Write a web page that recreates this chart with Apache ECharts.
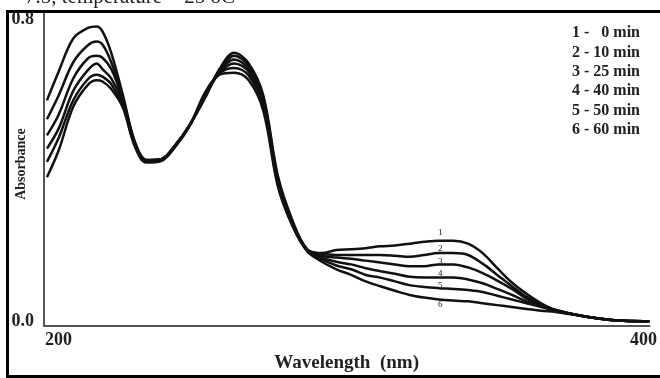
<!DOCTYPE html>
<html><head><meta charset="utf-8">
<script src="https://cdn.jsdelivr.net/npm/echarts@6/dist/echarts.min.js"></script>
<style>html,body{margin:0;padding:0;background:#fff}#c{width:660px;height:378px}</style>
</head><body><div id="c"></div>
<script>
const wavelengths = [196,200,205,210,213,215,218,222,226,230,235,240,245,250,255,260,265,270,275,280,285,290,295,300,305,310,315,320,325,330,335,340,345,350,355,360,365,370,380,390,400,402];
const curve1 = [0.586,0.662,0.750,0.778,0.782,0.769,0.712,0.599,0.478,0.428,0.430,0.468,0.523,0.591,0.669,0.712,0.684,0.599,0.385,0.267,0.191,0.181,0.189,0.191,0.194,0.199,0.201,0.206,0.211,0.214,0.214,0.206,0.181,0.141,0.103,0.073,0.048,0.030,0.013,0.003,0.000,0.000];
const curve2 = [0.536,0.599,0.687,0.732,0.742,0.734,0.687,0.591,0.476,0.428,0.430,0.468,0.523,0.594,0.664,0.704,0.677,0.591,0.377,0.262,0.191,0.179,0.176,0.176,0.176,0.176,0.174,0.171,0.176,0.181,0.181,0.176,0.153,0.123,0.093,0.065,0.045,0.030,0.013,0.003,0.000,0.000];
const curve3 = [0.493,0.548,0.644,0.697,0.704,0.699,0.669,0.586,0.473,0.426,0.429,0.468,0.523,0.596,0.662,0.694,0.669,0.584,0.372,0.259,0.189,0.174,0.169,0.166,0.161,0.156,0.151,0.146,0.146,0.151,0.151,0.143,0.128,0.108,0.086,0.060,0.043,0.028,0.013,0.003,0.000,0.000];
const curve4 = [0.458,0.511,0.611,0.666,0.684,0.669,0.644,0.579,0.470,0.425,0.428,0.468,0.523,0.599,0.659,0.684,0.662,0.576,0.367,0.257,0.189,0.169,0.158,0.151,0.141,0.133,0.126,0.118,0.116,0.116,0.116,0.111,0.101,0.086,0.070,0.053,0.040,0.028,0.013,0.003,0.000,0.000];
const curve5 = [0.423,0.486,0.586,0.642,0.654,0.649,0.629,0.571,0.468,0.423,0.426,0.466,0.521,0.601,0.657,0.672,0.652,0.569,0.362,0.254,0.186,0.164,0.148,0.138,0.123,0.116,0.106,0.096,0.091,0.088,0.086,0.083,0.078,0.068,0.058,0.048,0.038,0.028,0.013,0.003,0.000,0.000];
const curve6 = [0.382,0.453,0.569,0.627,0.639,0.636,0.616,0.566,0.465,0.421,0.425,0.464,0.521,0.606,0.654,0.659,0.639,0.558,0.357,0.252,0.186,0.158,0.138,0.123,0.106,0.093,0.081,0.070,0.063,0.058,0.055,0.053,0.048,0.043,0.038,0.033,0.028,0.025,0.013,0.003,0.000,0.000];
const curveNames = ['1','2','3','4','5','6'];
const legendLines = ['1 -   0 min','2 - 10 min','3 - 25 min','4 - 40 min','5 - 50 min','6 - 60 min'];
const tagWavelength = 330.5;
const tagValues = [0.236,0.194,0.158,0.126,0.096,0.043];
const xTickValues = [200,400];
const yTickValues = [0,0.8];
const titleText = '7.5, temperature = 25 oC';
const xTitle = 'Wavelength  (nm)';
const yTitle = 'Absorbance';

const curves = [curve1,curve2,curve3,curve4,curve5,curve6];
const serif = '"Liberation Serif","Times New Roman",serif';
const chart = echarts.init(document.getElementById('c'), null, {renderer:'canvas'});

const series = curves.map((c,i)=>({
  name: curveNames[i],
  type: 'line',
  data: wavelengths.map((w,j)=>[w,c[j]]),
  showSymbol: false,
  smooth: 0.35,
  lineStyle: {color:'#111', width:2.5},
  z: 3,
  markPoint: {
    symbol: 'circle', symbolSize: 0,
    data: [{coord:[tagWavelength, tagValues[i]], value: curveNames[i]}],
    label: {show:true, position:'inside', formatter: curveNames[i], color:'#222', fontSize:9, fontFamily: serif}
  }
}));

const graphic = [
  {type:'rect', shape:{x:7.5, y:11.5, width:700, height:365}, style:{fill:'none', stroke:'#000', lineWidth:3}, z:10},
  {type:'text', x:25, y:8, style:{text:titleText, font:'21px '+serif, fill:'#222', verticalAlign:'bottom', align:'left'}},
  {type:'text', x:21, y:164, rotation:Math.PI/2, style:{text:yTitle, font:'bold 14px '+serif, fill:'#222', align:'center', verticalAlign:'middle'}}
];
legendLines.forEach((t,i)=>{
  graphic.push({type:'text', x:572, y:33+i*19.4, style:{text:t, font:'bold 16px '+serif, fill:'#222', align:'left', verticalAlign:'middle'}});
});

chart.setOption({
  animation:false,
  backgroundColor:'#fff',
  grid:{left:44, right:4, top:13, bottom:35},
  xAxis:{
    type:'value', min:195, max:402,
    name:xTitle, nameLocation:'middle', nameGap:5,
    nameTextStyle:{fontFamily:serif, fontWeight:'bold', fontSize:19, color:'#222', verticalAlign:'top'},
    axisLine:{show:true, onZero:false, lineStyle:{color:'#555', width:2}},
    axisTick:{show:false},
    splitLine:{show:false},
    axisLabel:{customValues:xTickValues, formatter:v=>String(v), fontFamily:serif, fontWeight:'bold', fontSize:18, color:'#222', margin:5}
  },
  yAxis:{
    type:'value', min:-0.0126, max:0.8176,
    axisLine:{show:true, onZero:false, lineStyle:{color:'#555', width:2}},
    axisTick:{show:false},
    splitLine:{show:false},
    axisLabel:{customValues:yTickValues, formatter:v=>v.toFixed(1), fontFamily:serif, fontWeight:'bold', fontSize:18, color:'#222', margin:10}
  },
  series:series,
  graphic:graphic
});
</script></body></html>
